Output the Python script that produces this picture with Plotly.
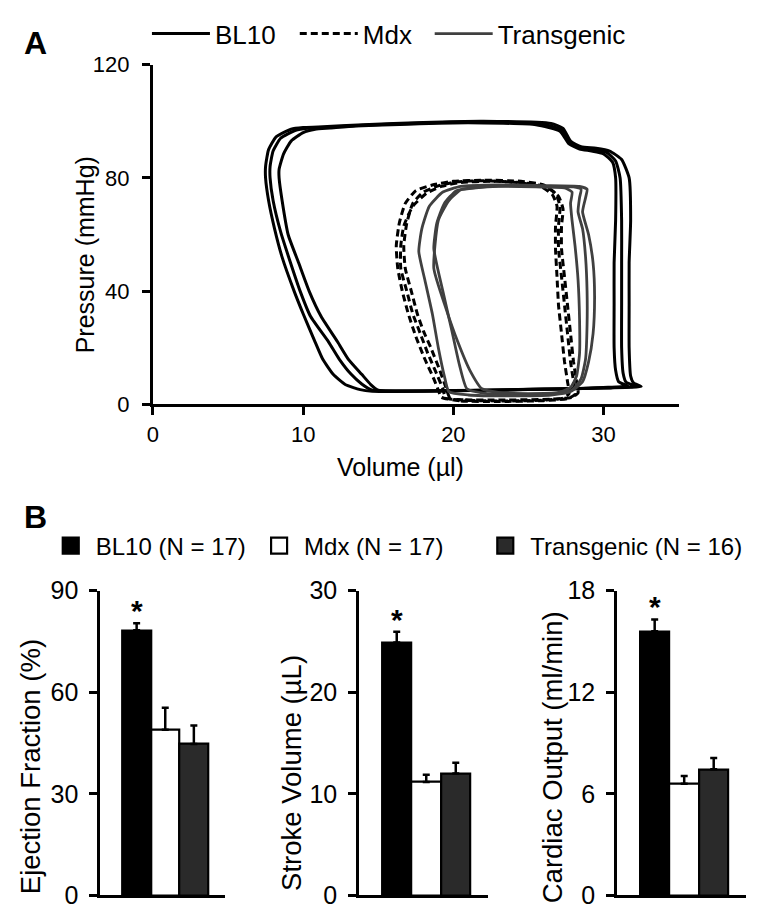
import plotly.graph_objects as go

FONT = "Liberation Sans, Arial, Helvetica, sans-serif"

# ---------------- Panel A: pressure-volume loops ----------------
# volume (µl), pressure (mmHg), three loops per group
bl10_v1 = [13.8, 14.6, 16.0, 20.0, 25.0, 28.0, 30.5, 31.8, 32.5, 32.0, 31.8, 31.7, 31.7, 31.7, 31.8, 31.7, 31.2, 30.4, 29.5, 28.5, 27.8, 27.3, 26.5, 22.0, 18.0, 14.0, 11.0, 10.0, 9.2, 8.2, 7.7, 7.5, 7.5, 7.7, 8.1, 8.6, 9.4, 10.0, 10.8, 11.3, 12.0, 12.8, 13.8]
bl10_p1 = [5.2, 4.6, 4.5, 4.8, 5.2, 5.5, 5.8, 6.0, 6.3, 7.5, 10.0, 20.0, 35.0, 50.0, 65.0, 80.0, 86.5, 89.5, 90.5, 91.0, 93.0, 97.5, 99.2, 100.0, 99.6, 98.8, 98.0, 97.8, 97.2, 94.5, 90.0, 84.0, 80.0, 72.0, 62.0, 52.0, 40.0, 32.0, 22.0, 16.0, 10.6, 7.0, 5.2]

bl10_v2 = [14.6, 15.5, 17.0, 21.0, 25.0, 28.5, 30.5, 31.5, 32.2, 31.5, 31.3, 31.2, 31.2, 31.2, 31.2, 31.1, 30.8, 30.2, 29.3, 28.5, 27.8, 27.2, 26.0, 22.0, 18.0, 14.0, 11.5, 10.3, 9.5, 8.5, 8.0, 7.8, 7.8, 8.0, 8.5, 9.1, 9.8, 10.5, 11.7, 12.4, 13.2, 13.9, 14.6]
bl10_p2 = [5.0, 4.7, 4.6, 4.9, 5.3, 5.6, 5.9, 6.1, 6.4, 7.8, 11.0, 20.0, 35.0, 50.0, 65.0, 80.0, 86.0, 89.0, 90.0, 90.5, 92.5, 97.0, 99.0, 99.8, 99.4, 98.6, 97.8, 97.5, 96.8, 94.0, 89.5, 84.0, 80.0, 72.0, 61.0, 51.0, 40.0, 31.0, 22.0, 16.0, 10.6, 7.2, 5.0]

bl10_v3 = [15.0, 16.0, 18.0, 22.0, 26.0, 29.0, 30.3, 31.2, 31.6, 31.0, 30.8, 30.7, 30.7, 30.7, 30.8, 30.8, 30.6, 30.0, 29.2, 28.4, 27.7, 27.1, 25.5, 21.0, 17.0, 13.5, 11.8, 10.8, 10.0, 9.2, 8.7, 8.4, 8.4, 8.6, 9.0, 9.7, 10.4, 11.2, 12.3, 13.0, 13.9, 14.5, 15.0]
bl10_p3 = [5.0, 4.8, 4.8, 5.0, 5.4, 5.7, 6.0, 6.2, 6.5, 8.0, 12.0, 20.0, 35.0, 50.0, 65.0, 80.0, 85.5, 88.5, 89.5, 90.2, 92.0, 96.5, 98.8, 99.5, 99.0, 98.3, 97.6, 97.2, 96.0, 93.0, 88.5, 83.0, 80.0, 72.0, 60.0, 50.0, 40.0, 31.0, 22.0, 16.0, 10.6, 7.0, 5.0]

mdx_v1 = [19.2, 20.5, 23.0, 26.0, 27.6, 28.1, 28.0, 27.8, 27.6, 27.4, 27.2, 27.0, 27.0, 27.1, 26.8, 26.0, 24.5, 22.0, 20.0, 18.6, 17.5, 16.8, 16.4, 16.2, 16.3, 16.6, 17.0, 17.5, 18.1, 18.7, 19.0, 19.2]
mdx_p1 = [2.5, 1.2, 1.0, 1.3, 2.0, 3.5, 8.0, 15.0, 25.0, 35.0, 45.0, 55.0, 63.0, 70.0, 74.5, 77.5, 78.8, 79.2, 78.8, 77.5, 75.5, 71.0, 64.0, 56.0, 48.0, 40.0, 32.0, 24.0, 16.0, 9.0, 5.0, 2.5]

mdx_v2 = [19.8, 21.0, 23.5, 26.2, 27.3, 27.7, 27.6, 27.4, 27.2, 27.0, 26.9, 26.8, 26.8, 26.9, 26.6, 25.8, 24.0, 22.0, 20.2, 19.0, 18.0, 17.3, 16.9, 16.7, 16.8, 17.2, 17.6, 18.0, 18.5, 19.1, 19.5, 19.8]
mdx_p2 = [2.0, 1.4, 1.2, 1.5, 2.2, 3.8, 8.0, 15.0, 25.0, 35.0, 45.0, 55.0, 63.0, 70.0, 74.0, 77.0, 78.5, 79.0, 78.6, 77.2, 75.0, 71.0, 64.0, 56.0, 48.0, 40.0, 32.0, 26.0, 20.0, 12.0, 6.0, 2.0]

mdx_v3 = [19.5, 20.8, 23.2, 26.5, 27.9, 28.3, 28.2, 28.0, 27.8, 27.6, 27.4, 27.2, 27.2, 27.3, 27.0, 26.2, 24.8, 22.5, 20.5, 19.2, 18.2, 17.3, 16.7, 16.5, 16.5, 16.9, 17.3, 17.8, 18.3, 18.9, 19.3, 19.5]
mdx_p3 = [2.2, 1.6, 1.5, 1.8, 2.5, 4.0, 8.0, 15.0, 25.0, 35.0, 45.0, 55.0, 63.0, 69.0, 73.5, 76.8, 78.2, 78.8, 78.4, 77.0, 74.5, 70.0, 63.0, 56.0, 48.0, 40.0, 32.0, 25.0, 18.0, 10.6, 5.5, 2.2]

tg_v1 = [19.7, 21.0, 24.0, 26.5, 27.8, 28.6, 29.0, 29.3, 29.4, 29.3, 29.0, 28.6, 28.8, 28.9, 28.4, 26.0, 23.0, 20.5, 19.3, 18.4, 17.9, 17.7, 18.1, 18.6, 19.0, 19.4, 19.7]
tg_p1 = [4.5, 3.3, 3.0, 3.3, 4.5, 8.0, 15.0, 25.0, 38.0, 50.0, 60.0, 68.0, 73.0, 76.0, 77.0, 77.3, 77.5, 77.0, 75.0, 70.0, 62.0, 54.0, 44.0, 32.0, 20.0, 10.0, 4.5]

tg_v2 = [20.9, 22.0, 24.5, 26.8, 27.9, 28.5, 28.8, 28.9, 28.9, 28.8, 28.6, 28.3, 28.4, 28.5, 28.0, 26.0, 23.5, 21.5, 20.2, 19.4, 18.9, 18.7, 19.3, 19.9, 20.4, 20.9]
tg_p2 = [5.5, 4.0, 3.5, 3.8, 5.0, 9.0, 16.0, 28.0, 40.0, 52.0, 62.0, 68.0, 73.0, 76.0, 76.8, 77.0, 77.2, 76.6, 75.5, 71.0, 64.0, 55.0, 40.0, 26.0, 14.0, 5.5]

tg_v3 = [21.9, 23.0, 25.0, 27.0, 27.8, 28.2, 28.4, 28.4, 28.3, 28.1, 27.9, 27.8, 27.9, 27.4, 25.5, 23.0, 21.5, 20.5, 19.7, 19.0, 18.7, 19.5, 20.3, 21.1, 21.9]
tg_p3 = [5.5, 4.2, 3.8, 4.2, 6.0, 10.0, 18.0, 30.0, 44.0, 56.0, 65.0, 71.0, 75.0, 76.5, 76.8, 77.0, 76.5, 75.8, 72.0, 65.0, 48.0, 34.0, 22.0, 12.0, 5.5]

volume_ticks = [0, 10, 20, 30]
pressure_ticks = [0, 40, 80, 120]
loop_groups = ["BL10", "Mdx", "Transgenic"]

# ---------------- Panel B: bar charts ----------------
groups = ["BL10", "Mdx", "Transgenic"]
group_labels = ["BL10 (N = 17)", "Mdx (N = 17)", "Transgenic (N = 16)"]
ejection_fraction = [78.3, 48.9, 44.7]
ejection_fraction_err = [2.1, 6.5, 5.5]
stroke_volume = [24.9, 11.15, 12.0]
stroke_volume_err = [1.06, 0.72, 1.06]
cardiac_output = [15.6, 6.6, 7.45]
cardiac_output_err = [0.7, 0.45, 0.67]
ef_ticks = [0, 30, 60, 90]
sv_ticks = [0, 10, 20, 30]
co_ticks = [0, 6, 12, 18]
significant = ["BL10"]
bar_titles = ["Ejection Fraction (%)", "Stroke Volume (µL)", "Cardiac Output (ml/min)"]

bar_colors = ["#000000", "#ffffff", "#2a2a2a"]

W, H = 760, 912
def px_x(a, b):
    return [a / W, b / W]
def px_y(top, bottom):
    return [1 - bottom / H, 1 - top / H]

fig = go.Figure()

# one legend box per group so each key sits where the reference puts it
loop_legends = ["legend", "legend3", "legend4"]
bar_legends = ["legend2", "legend5", "legend6"]

loop_sets = [
    ("BL10", [(bl10_v1, bl10_p1), (bl10_v2, bl10_p2), (bl10_v3, bl10_p3)], dict(color="#000000", width=3, dash="solid")),
    ("Mdx", [(mdx_v1, mdx_p1), (mdx_v2, mdx_p2), (mdx_v3, mdx_p3)], dict(color="#000000", width=3, dash="7px,4px")),
    ("Transgenic", [(tg_v1, tg_p1), (tg_v2, tg_p2), (tg_v3, tg_p3)], dict(color="#404040", width=2.8, dash="solid")),
]
for (name, loops, style), leg in zip(loop_sets, loop_legends):
    for i, (v, p) in enumerate(loops):
        fig.add_trace(go.Scatter(
            x=v, y=p, mode="lines", name=name, legendgroup=name,
            showlegend=(i == 0), legend=leg,
            line=dict(shape="spline", smoothing=0.5, **style),
            xaxis="x", yaxis="y",
        ))

panels = [
    ("x2", "y2", ejection_fraction, ejection_fraction_err),
    ("x3", "y3", stroke_volume, stroke_volume_err),
    ("x4", "y4", cardiac_output, cardiac_output_err),
]
for k, (xa, ya, vals, errs) in enumerate(panels):
    for g, lab, val, err, col in zip(groups, group_labels, vals, errs, bar_colors):
        fig.add_trace(go.Bar(
            x=[g], y=[val], name=lab, legendgroup=lab, showlegend=False,
            marker=dict(color=col, line=dict(color="#000000", width=2.2)),
            width=1.0,
            error_y=dict(type="data", array=[err], arrayminus=[0], symmetric=False,
                         color="#000000", thickness=2.5, width=3.5),
            xaxis=xa, yaxis=ya,
        ))
        if g in significant:
            fig.add_annotation(x=g, y=val + err, xref=xa, yref=ya, text="<b>*</b>",
                               showarrow=False, yanchor="bottom", yshift=-6,
                               font=dict(size=30, family=FONT, color="#000000"))

# legend keys for the bar groups (square swatches)
for g, lab, col, leg in zip(groups, group_labels, bar_colors, bar_legends):
    fig.add_trace(go.Scatter(
        x=[None], y=[None], mode="markers", name=lab, legendgroup=lab,
        legend=leg, showlegend=True,
        marker=dict(symbol="square", size=16, color=col, line=dict(color="#000000", width=2.2)),
        xaxis="x2", yaxis="y2",
    ))

axis_common = dict(showline=True, linecolor="#000000", linewidth=3, ticks="outside",
                   ticklen=8, tickwidth=3, tickcolor="#000000", showgrid=False,
                   zeroline=False, mirror=False)
xbar_common = dict(range=[-1.27, 3.1], showticklabels=False, showline=True,
                   linecolor="#000000", linewidth=3, ticks="", showgrid=False, zeroline=False)

def loop_legend(xpx):
    return dict(orientation="h", x=xpx / W, y=1 - 12 / H, xanchor="left", yanchor="middle",
                font=dict(size=26), itemwidth=58, bgcolor="rgba(0,0,0,0)", tracegroupgap=0)

def bar_legend(xpx):
    return dict(orientation="h", x=xpx / W, y=1 - 540 / H, xanchor="left", yanchor="middle",
                font=dict(size=24), itemwidth=40, itemsizing="trace",
                bgcolor="rgba(0,0,0,0)", tracegroupgap=0)

fig.update_layout(
    width=W, height=H, margin=dict(l=0, r=0, t=0, b=0),
    paper_bgcolor="#ffffff", plot_bgcolor="#ffffff",
    font=dict(family=FONT, color="#000000"),
    bargap=0,
    xaxis=dict(domain=px_x(140, 670), range=[0, 35], tickvals=volume_ticks,
               tickfont=dict(size=22), anchor="y", **axis_common),
    yaxis=dict(domain=px_y(44, 394), range=[0, 120], tickvals=pressure_ticks,
               tickfont=dict(size=22), ticklabelstandoff=8, anchor="x", **axis_common),
    xaxis2=dict(domain=px_x(87, 213), anchor="y2", **xbar_common),
    yaxis2=dict(domain=px_y(586, 900), range=[0, 90], tickvals=ef_ticks, tickfont=dict(size=25),
                ticklabelstandoff=6, anchor="x2", **axis_common),
    xaxis3=dict(domain=px_x(348, 478), anchor="y3", **xbar_common),
    yaxis3=dict(domain=px_y(586, 900), range=[0, 30], tickvals=sv_ticks, tickfont=dict(size=25),
                ticklabelstandoff=6, anchor="x3", **axis_common),
    xaxis4=dict(domain=px_x(608, 738), anchor="y4", **xbar_common),
    yaxis4=dict(domain=px_y(586, 900), range=[0, 18], tickvals=co_ticks, tickfont=dict(size=25),
                ticklabelstandoff=6, anchor="x4", **axis_common),
    legend=loop_legend(134),
    legend3=loop_legend(283),
    legend4=loop_legend(419),
    legend2=bar_legend(32),
    legend5=bar_legend(242),
    legend6=bar_legend(470),
    showlegend=True,
)

# axis titles
fig.add_annotation(text="Volume (µl)", x=390 / W, y=1 - 459 / H, xref="paper", yref="paper",
                   xanchor="center", yanchor="middle", showarrow=False,
                   font=dict(size=25, family=FONT, color="#000000"))
fig.add_annotation(text="Pressure (mmHg)", x=71 / W, y=1 - 240 / H, xref="paper", yref="paper",
                   xanchor="center", yanchor="middle", showarrow=False, textangle=-90,
                   font=dict(size=25, family=FONT, color="#000000"))
for title, cx, cy in zip(bar_titles, [16, 279, 543], [767, 774, 758]):
    fig.add_annotation(text=title, x=cx / W, y=1 - cy / H, xref="paper", yref="paper",
                       xanchor="center", yanchor="middle", showarrow=False, textangle=-90,
                       font=dict(size=27.5, family=FONT, color="#000000"))

fig.add_annotation(text="<b>A</b>", x=8 / W, y=1 - 1 / H, xref="paper", yref="paper",
                   xanchor="left", yanchor="top", showarrow=False,
                   font=dict(size=32, family=FONT, color="#000000"))
fig.add_annotation(text="<b>B</b>", x=8 / W, y=1 - 490 / H, xref="paper", yref="paper",
                   xanchor="left", yanchor="top", showarrow=False,
                   font=dict(size=32, family=FONT, color="#000000"))

fig.write_html("out.html")
